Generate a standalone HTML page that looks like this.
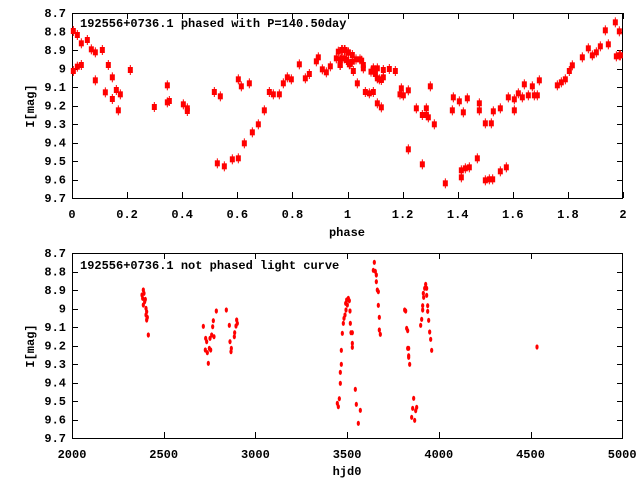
<!DOCTYPE html>
<html><head><meta charset="utf-8"><style>
html,body{margin:0;padding:0;background:#fff;width:640px;height:480px;overflow:hidden}
text{font-family:"Liberation Mono",monospace;font-size:12px;font-weight:bold;fill:#000}
</style></head><body>
<svg id="s" width="640" height="480" xmlns="http://www.w3.org/2000/svg">
<g id="axes" stroke="#000" stroke-width="1" fill="none">
<rect x="72.5" y="13.5" width="550" height="185"/>
<rect x="72.5" y="253.5" width="550" height="185"/>
</g>
<g id="ticks" stroke="#000" stroke-width="1"></g>
<g id="labels"></g>
<text x="80" y="27">192556+0736.1 phased with P=140.50day</text>
<text x="80" y="269">192556+0736.1 not phased light curve</text>
<text x="347" y="236" text-anchor="middle">phase</text>
<text x="347" y="475" text-anchor="middle">hjd0</text>
<text transform="translate(34,106) rotate(-90)" text-anchor="middle">I[mag]</text>
<text transform="translate(34,346) rotate(-90)" text-anchor="middle">I[mag]</text>
<g id="pts" fill="#f00" stroke="#f00"></g>
</svg>
<script>
var NS="http://www.w3.org/2000/svg";
function el(p,t,a,txt){var e=document.createElementNS(NS,t);for(var k in a)e.setAttribute(k,a[k]);if(txt!==undefined)e.textContent=txt;document.getElementById(p).appendChild(e);}
var yl=["8.7","8.8","8.9","9","9.1","9.2","9.3","9.4","9.5","9.6","9.7"];
[[13,198],[253,438]].forEach(function(r){
 for(var i=0;i<=10;i++){var y=r[0]+i*18.5;var yy=Math.round(y)+0.5;
  el("ticks","line",{x1:72,y1:yy,x2:78,y2:yy});el("ticks","line",{x1:617,y1:yy,x2:623,y2:yy});
  el("labels","text",{x:66,y:y+4,"text-anchor":"end"},yl[i]);}
});
var xt1=["0","0.2","0.4","0.6","0.8","1","1.2","1.4","1.6","1.8","2"];
for(var i=0;i<=10;i++){var x=72+i*55.1;var xx=Math.round(x)+0.5;
 el("ticks","line",{x1:xx,y1:13,x2:xx,y2:19});el("ticks","line",{x1:xx,y1:192,x2:xx,y2:198});
 el("labels","text",{x:x,y:218,"text-anchor":"middle"},xt1[i]);}
var xt2=["2000","2500","3000","3500","4000","4500","5000"];
for(var i=0;i<=6;i++){var x=72+i*91.7;var xx=Math.round(x)+0.5;
 el("ticks","line",{x1:xx,y1:253,x2:xx,y2:259});el("ticks","line",{x1:xx,y1:432,x2:xx,y2:438});
 el("labels","text",{x:x,y:458,"text-anchor":"middle"},xt2[i]);}
function big(x,y){el("pts","rect",{x:x-2.5,y:y-3,width:5,height:6,stroke:"none"});el("pts","line",{x1:x,y1:y-5,x2:x,y2:y+5,"stroke-width":1});}
function sm(x,y){el("pts","ellipse",{cx:x,cy:y,rx:1.6,ry:2.6,stroke:"none"});}
var z1=[[40,93],[52,105],[64,130],[82,120],[94,148],[106,157],[127,150],[40,213],[52,200],[64,195],[145,195],[106,241],[157,232],[136,277],[169,270],[157,297],[181,283],[175,331],[211,210],[283,321],[322,256],[322,307],[328,303],[370,313],[382,325],[382,333],[463,276],[481,289],[472,490],[493,499],[517,478],[535,475],[535,238],[544,259],[568,250],[553,430],[577,397],[595,373],[613,331],[628,276],[640,283],[658,283],[670,250],[682,232],[694,238],[718,193],[736,235],[748,222],[769,184],[775,172],[787,208],[799,217],[811,199],[829,175],[835,155],[841,180],[841,195],[847,150],[853,150],[853,175],[859,180],[865,157],[868,193]];
z1.forEach(function(p){big(60+p[0]/3,p[1]/3);});
var z2=[[0,195],[5,150],[5,175],[15,150],[20,180],[25,158],[30,192],[37,165],[37,185],[40,213],[48,178],[60,178],[65,182],[70,195],[70,205],[52,250],[76,276],[88,280],[100,276],[93,215],[100,205],[106,222],[112,205],[112,235],[118,238],[124,240],[130,232],[130,210],[148,207],[166,213],[112,310],[124,322],[184,265],[180,283],[190,286],[205,271],[205,448],[229,325],[247,345],[259,325],[259,345],[265,352],[271,259],[283,373],[247,493],[316,550],[337,331],[340,292],[358,304],[370,337],[382,295],[418,310],[418,331],[364,511],[364,532],[376,505],[388,502],[412,475],[436,370],[454,370],[460,334],[436,541],[448,538],[458,538],[481,325],[481,514],[499,502],[505,292],[523,298],[523,331],[535,280],[547,292],[553,253],[565,286],[577,259],[583,286],[592,286],[598,241],[652,256],[664,247],[676,238],[688,213],[697,196],[727,172],[745,145],[757,166],[769,157],[781,139],[796,91],[805,133],[826,67],[829,169],[838,94],[838,166],[841,166]];
z2.forEach(function(p){big(340+p[0]/3,p[1]/3);});
var z3=[[250,150],[246,165],[252,160],[248,175],[254,185],[250,195],[256,178],[258,205],[260,215],[258,225],[262,232],[260,240],[265,285],[430,259],[437,295],[440,305],[436,330],[442,338],[448,325],[452,330],[445,370],[450,295],[455,285],[458,260],[460,242],[462,290],[469,213],[499,210],[508,256],[510,305],[514,325],[513,335],[524,278],[523,290],[530,240],[528,258],[532,250],[832,490],[835,500],[838,476],[841,397],[841,430],[844,373],[844,331],[847,280],[850,250],[852,235],[855,225],[858,210],[857,190],[860,180],[862,195],[865,175],[868,182],[870,213],[871,250],[873,278],[877,278],[877,310],[877,322],[886,448],[889,493],[895,550],[901,511],[943,67],[940,91],[946,94],[949,105],[949,125],[952,150],[955,155],[955,196],[958,232],[958,270],[961,283],[1034,210],[1037,213],[1040,265],[1043,272],[1043,325],[1046,325],[1046,347],[1046,352],[1049,373],[1055,532],[1058,505],[1061,475],[1064,541],[1067,512],[1070,502],[1082,256],[1085,238],[1088,210],[1088,197],[1091,172],[1094,145],[1097,133],[1100,166],[1103,197],[1103,214],[1106,241],[1109,276],[1112,298],[1115,331],[1090,160],[1100,145]];
z3.forEach(function(p){sm(60+p[0]/3,240+p[1]/3);});
sm(537,347);
</script>
</body></html>
